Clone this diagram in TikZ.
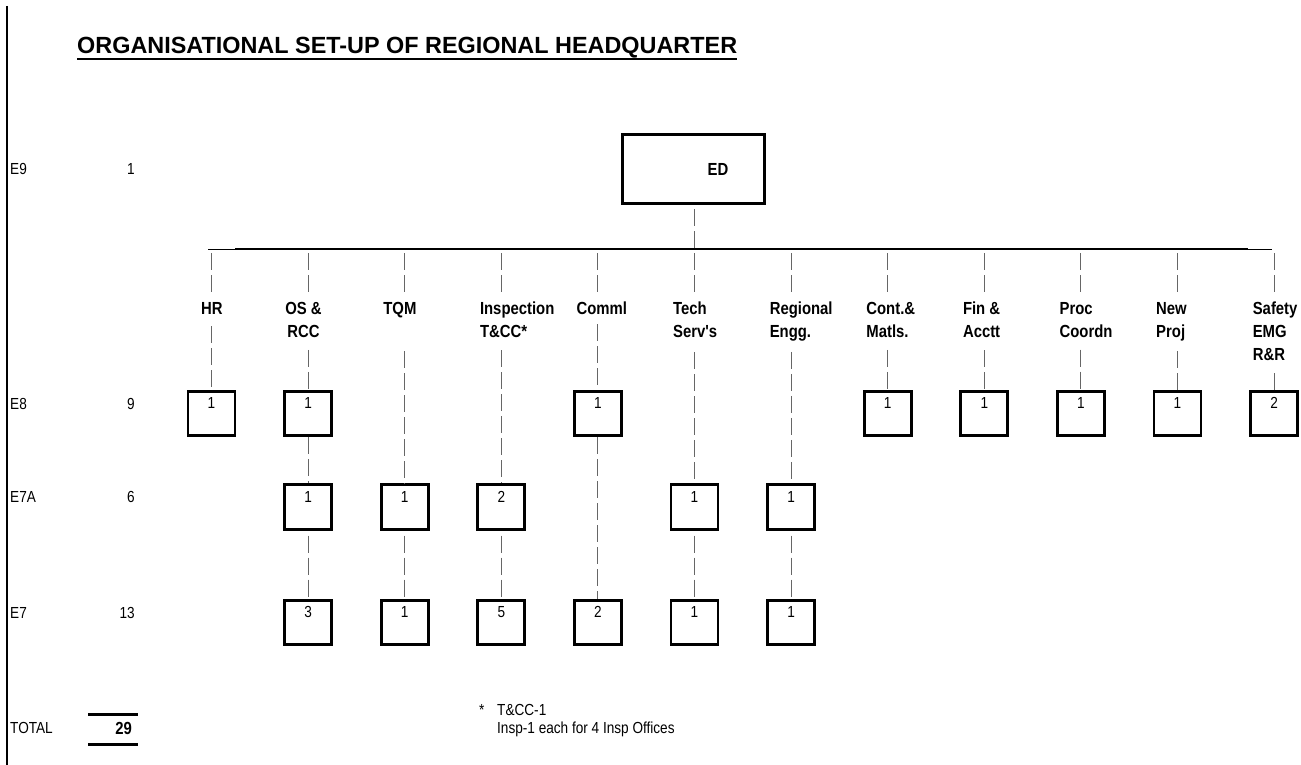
\documentclass[tikz,border=0pt]{standalone}
\usepackage{fontspec}
\setmainfont{Liberation Sans}
\newfontfamily\cnd{Liberation Sans}[FakeStretch=0.85]
\begin{document}
\begin{tikzpicture}[x=1pt,y=-1pt,
  dl/.style={draw=black!60, line width=1.1pt, dash pattern=on 17pt off 5pt},
  box/.style={draw, line width=2.7pt, minimum width=47pt, minimum height=44.5pt, inner sep=0pt},
  lab/.style={font=\cnd\bfseries\fontsize{17.5}{23}\selectfont, align=left, anchor=north west, inner sep=0pt},
  reg/.style={font=\cnd\fontsize{16}{21}\selectfont, inner sep=0pt},
  bnum/.style={font=\cnd\bfseries\fontsize{17.5}{23}\selectfont, inner sep=0pt},
  thick rule/.style={line width=3pt}
  ]
\useasboundingbox (0,0) rectangle (1301,765);
% left rule and title
\coordinate (vt) at (7,6);
\coordinate (vb) at (7,765);
\draw[line width=2.8pt] (vt) -- (vb);
\node[font=\bfseries\fontsize{23.4}{28}\selectfont, anchor=base west, inner sep=0pt] (title) at (77,54) {ORGANISATIONAL SET-UP OF REGIONAL HEADQUARTER};
\draw[line width=2pt] ([yshift=-5pt]title.base west) -- ([yshift=-5pt]title.base east);

% row labels
\node[reg, anchor=west] (rE9) at (10,169) {E9};
\node[reg, anchor=east] (nE9) at (135,169) {1};
\node[reg, anchor=west] (rE8) at (10,404) {E8};
\node[reg, anchor=east] (nE8) at (135,404) {9};
\node[reg, anchor=west] (rE7A) at (10,497) {E7A};
\node[reg, anchor=east] (nE7A) at (135,497) {6};
\node[reg, anchor=west] (rE7) at (10,613) {E7};
\node[reg, anchor=east] (nE7) at (135,613) {13};
\node[reg, anchor=west] (rTot) at (10,728) {TOTAL};
\node[bnum, anchor=east] (nTot) at (132,728) {29};
\coordinate (ta1) at (88,714); \coordinate (ta2) at (138,714);
\coordinate (tb1) at (88,744); \coordinate (tb2) at (138,744);
\draw[thick rule] (ta1) -- (ta2);
\draw[thick rule] (tb1) -- (tb2);

% ED
\node[draw, line width=3pt, minimum width=142pt, minimum height=69pt, inner sep=0pt, font=\cnd\bfseries\fontsize{17.5}{23}\selectfont] (ed) at (693.5,169) {\hspace*{49pt}ED};

% main horizontal line
\coordinate (hl) at (208,249); \coordinate (hr) at (1272,249);
\coordinate (hl2) at (235,249); \coordinate (hr2) at (1248,249);
\draw[line width=1pt] (hl) -- (hr);
\draw[line width=2.6pt] (hl2) -- (hr2);

% column points on the line
\coordinate (c0) at (211.5,249);
\coordinate (c1) at (308.1,249);
\coordinate (c2) at (404.7,249);
\coordinate (c3) at (501.3,249);
\coordinate (c4) at (597.9,249);
\coordinate (c5) at (694.5,249);
\coordinate (c6) at (791.1,249);
\coordinate (c7) at (887.7,249);
\coordinate (c8) at (984.3,249);
\coordinate (c9) at (1080.9,249);
\coordinate (c10) at (1177.5,249);
\coordinate (c11) at (1274.1,249);

\draw[dl, shorten <=4pt] (ed.south -| c5) -- (c5);

% column labels
\node[lab] (l0) at (201,302) {HR};
\node[lab, align=center, anchor=north] (l1) at (303.5,302) {OS \&\\RCC};
\node[lab] (l2) at (383.2,302) {TQM};
\node[lab] (l3) at (479.8,302) {Inspection\\T\&CC*};
\node[lab] (l4) at (576.4,302) {Comml};
\node[lab] (l5) at (673,302) {Tech\\Serv's};
\node[lab] (l6) at (769.6,302) {Regional\\Engg.};
\node[lab] (l7) at (866.2,302) {Cont.\&\\Matls.};
\node[lab] (l8) at (962.8,302) {Fin \&\\Acctt};
\node[lab] (l9) at (1059.4,302) {Proc\\Coordn};
\node[lab] (l10) at (1156,302) {New\\Proj};
\node[lab] (l11) at (1252.6,302) {Safety\\EMG\\R\&R};

% boxes
\newcommand{\bx}[4]{\node[box, label={[reg,anchor=center,yshift=-13.5pt]north:#4}] (#1) at (#2,#3) {};}
% E8
\bx{b0h}{211.5}{413.5}{1}
\bx{b1h}{308.1}{413.5}{1}
\bx{b4h}{597.9}{413.5}{1}
\bx{b7h}{887.7}{413.5}{1}
\bx{b8h}{984.3}{413.5}{1}
\bx{b9h}{1080.9}{413.5}{1}
\bx{b10h}{1177.5}{413.5}{1}
\bx{b11h}{1274.1}{413.5}{2}
% E7A
\bx{b1m}{308.1}{507}{1}
\bx{b2m}{404.7}{507}{1}
\bx{b3m}{501.3}{507}{2}
\bx{b5m}{694.5}{507}{1}
\bx{b6m}{791.1}{507}{1}
% E7
\bx{b1l}{308.1}{622.5}{3}
\bx{b2l}{404.7}{622.5}{1}
\bx{b3l}{501.3}{622.5}{5}
\bx{b4l}{597.9}{622.5}{2}
\bx{b5l}{694.5}{622.5}{1}
\bx{b6l}{791.1}{622.5}{1}

% line to labels
\foreach \i in {0,...,11}{
  \draw[dl, shorten <=4pt, shorten >=6pt] (c\i) -- (c\i |- l\i.north);
}
% labels to boxes
\draw[dl, shorten <=12pt] (c0 |- l0.south) -- (b0h.north);
\draw[dl, shorten <=12pt] (c1 |- l1.south) -- (b1h.north);
\draw[dl, shorten <=33pt] (c2 |- l2.south) -- (b2m.north);
\draw[dl, shorten <=12pt] (c3 |- l3.south) -- (b3m.north);
\draw[dl, shorten <=9pt] (c4 |- l4.south) -- (b4h.north);
\draw[dl, shorten <=14pt] (c5 |- l5.south) -- (b5m.north);
\draw[dl, shorten <=10pt] (c6 |- l6.south) -- (b6m.north);
\draw[dl, shorten <=12pt] (c7 |- l7.south) -- (b7h.north);
\draw[dl, shorten <=12pt] (c8 |- l8.south) -- (b8h.north);
\draw[dl, shorten <=12pt] (c9 |- l9.south) -- (b9h.north);
\draw[dl, shorten <=10pt] (c10 |- l10.south) -- (b10h.north);
\draw[dl, shorten <=12pt] (c11 |- l11.south) -- (b11h.north);
% box to box
\draw[dl] (b1h.south) -- (b1m.north);
\draw[dl, shorten <=5pt] (b1m.south) -- (b1l.north);
\draw[dl, shorten <=5pt] (b2m.south) -- (b2l.north);
\draw[dl, shorten <=5pt] (b3m.south) -- (b3l.north);
\draw[dl] (b4h.south) -- (b4l.north);
\draw[dl, shorten <=5pt] (b5m.south) -- (b5l.north);
\draw[dl, shorten <=5pt] (b6m.south) -- (b6l.north);

% footnote
\node[reg, anchor=west] (star) at (479,710) {*};
\node[reg, anchor=west] (fn1) at (497,710) {T\&CC-1};
\node[reg, anchor=west] (fn2) at (497,729) {Insp-1 each for 4 Insp Offices};
\end{tikzpicture}
\end{document}
